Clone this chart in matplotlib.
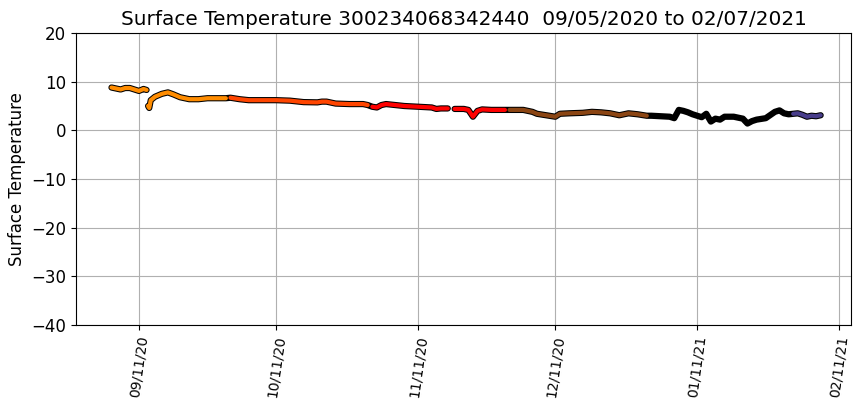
import matplotlib
matplotlib.use("Agg")
import matplotlib.pyplot as plt
import matplotlib.dates as mdates
import numpy as np
import pandas as pd

# -- data (NaN = gap in the record) --------------------------------------------
dates = [
    "2020-09-05", "2020-09-06", "2020-09-07", "2020-09-08", "2020-09-09",
    "2020-09-10", "2020-09-11", "2020-09-12", "2020-09-12 16:00",
    "2020-09-12 20:00",
    "2020-09-13 00:00", "2020-09-13 06:00", "2020-09-13 14:00",
    "2020-09-14 12:00", "2020-09-16", "2020-09-17 08:00", "2020-09-18 12:00",
    "2020-09-20", "2020-09-22", "2020-09-24", "2020-09-26", "2020-09-28",
    "2020-09-30",
    "2020-10-01", "2020-10-03", "2020-10-05", "2020-10-08", "2020-10-11",
    "2020-10-14", "2020-10-17", "2020-10-20", "2020-10-21", "2020-10-22",
    "2020-10-24", "2020-10-27", "2020-10-30", "2020-10-31",
    "2020-11-01", "2020-11-02", "2020-11-03", "2020-11-04", "2020-11-06",
    "2020-11-08", "2020-11-11", "2020-11-14", "2020-11-15", "2020-11-16",
    "2020-11-17", "2020-11-17 12:00",
    "2020-11-18",
    "2020-11-19", "2020-11-21", "2020-11-22", "2020-11-23", "2020-11-24",
    "2020-11-25", "2020-11-27", "2020-11-30",
    "2020-12-01", "2020-12-04", "2020-12-06", "2020-12-07", "2020-12-09",
    "2020-12-11", "2020-12-12", "2020-12-14", "2020-12-17", "2020-12-19",
    "2020-12-21", "2020-12-23", "2020-12-25", "2020-12-27", "2020-12-29",
    "2020-12-31",
    "2021-01-01", "2021-01-03", "2021-01-05", "2021-01-06", "2021-01-07",
    "2021-01-08", "2021-01-09", "2021-01-10", "2021-01-11", "2021-01-12",
    "2021-01-13", "2021-01-14", "2021-01-15", "2021-01-16", "2021-01-17",
    "2021-01-19", "2021-01-21", "2021-01-22", "2021-01-23", "2021-01-24",
    "2021-01-26", "2021-01-28", "2021-01-29", "2021-01-30", "2021-01-31",
    "2021-02-01", "2021-02-02", "2021-02-03", "2021-02-04", "2021-02-05",
    "2021-02-06", "2021-02-07",
]
temps = [
    8.8, 8.6, 8.4, 8.7, 8.7,
    8.4, 8.1, 8.5, 8.3,
    np.nan,
    5.0, 4.6, 6.2,
    6.9, 7.5, 7.8, 7.4,
    6.8, 6.4, 6.4, 6.6, 6.6,
    6.6,
    6.7, 6.4, 6.2, 6.2, 6.2,
    6.1, 5.8, 5.75, 5.9, 5.9,
    5.5, 5.4, 5.4, 5.2,
    4.85, 4.7, 5.2, 5.4, 5.2,
    5.0, 4.85, 4.7, 4.4, 4.5,
    4.5, 4.5,
    np.nan,
    4.4, 4.4, 4.2, 2.8, 4.0,
    4.3, 4.2, 4.2,
    4.2, 4.2, 3.8, 3.4, 3.1,
    2.8, 3.4, 3.5, 3.6, 3.8,
    3.7, 3.5, 3.1, 3.5, 3.3,
    3.0,
    3.0, 2.9, 2.8, 2.5, 4.2,
    4.0, 3.7, 3.3, 3.0, 2.7,
    3.4, 1.8, 2.4, 2.2, 2.8,
    2.8, 2.4, 1.4, 1.9, 2.2,
    2.5, 3.8, 4.1, 3.5, 3.3,
    3.4, 3.5, 3.2, 2.8, 3.0,
    2.9, 3.1,
]
month_colors = {9: "darkorange", 10: "orangered", 11: "red",
                12: "saddlebrown", 1: "black", 2: "darkslateblue"}

df = pd.DataFrame({"time": pd.to_datetime(dates, format="mixed"), "temp": temps})

fig = plt.figure(figsize=(8.6, 4.08), dpi=100)
ax = fig.add_axes([0.0884, 0.2034, 0.9011, 0.7157])

# black outline under everything, then month-coloured core
ax.plot(df["time"], df["temp"], color="black", lw=4.5,
        solid_capstyle="round", solid_joinstyle="round", zorder=3)
for m, c in month_colors.items():
    sub = df[df["time"].dt.month == m]
    ax.plot(sub["time"], sub["temp"], color=c, lw=3.0,
            solid_capstyle="round", solid_joinstyle="round", zorder=4)

ax.set_ylim(-40, 20)
ax.set_xlim(pd.Timestamp("2020-08-28 06:00"), pd.Timestamp("2021-02-13 15:00"))
ax.xaxis.set_major_locator(mdates.DayLocator(bymonthday=11))
ax.xaxis.set_major_formatter(mdates.DateFormatter("%m/%d/%y"))
plt.setp(ax.get_xticklabels(), rotation=82, fontsize=10)
ax.tick_params(axis="y", labelsize=12)
ax.set_ylabel("Surface Temperature", fontsize=12)
ax.set_title("Surface Temperature 300234068342440  09/05/2020 to 02/07/2021",
             fontsize=14.4)
ax.grid(True, zorder=0)
ax.set_axisbelow(True)

fig.savefig("out.png", dpi=100)
